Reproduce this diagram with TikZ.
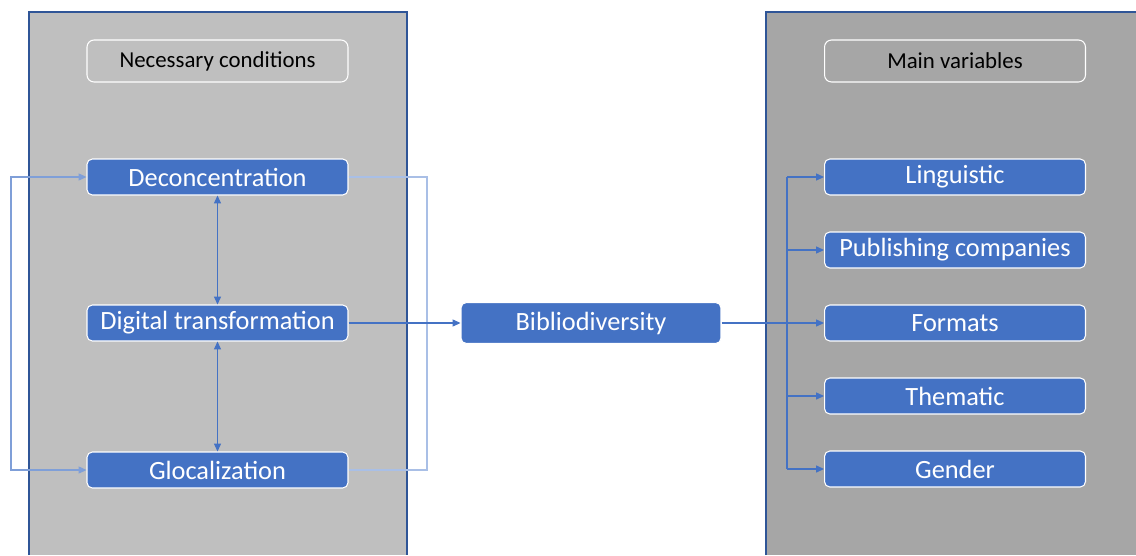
\documentclass[tikz,border=0pt]{standalone}
\usepackage{fontspec}
\setmainfont{Carlito}
\usetikzlibrary{arrows.meta}
\definecolor{boxblue}{HTML}{4472C4}
\definecolor{panelgrey}{HTML}{BFBFBF}
\definecolor{paneldark}{HTML}{A6A6A6}
\definecolor{edgeblue}{HTML}{2F5597}
\definecolor{loopblue}{HTML}{7F9FD8}
\definecolor{paleblue}{HTML}{A9BFE6}

\begin{document}
\begin{tikzpicture}[x=0.02cm,y=-0.02cm,
  bluebox/.style={draw=white,fill=boxblue,rounded corners=3pt,text=white,line width=0.6pt,
    minimum width=5.22cm,minimum height=0.72cm,inner sep=0pt,font=\fontsize{15}{18}\selectfont},
  headbox/.style={draw=white,rounded corners=4pt,line width=0.6pt,
    minimum width=5.22cm,minimum height=0.84cm,inner sep=0pt,font=\fontsize{13}{16}\selectfont},
  conn/.style={draw=boxblue,line width=0.6pt},
  tip/.style={-{Triangle[length=4.5pt,width=4pt]}},
  tips/.style={{Triangle[length=4.5pt,width=4pt]}-{Triangle[length=4.5pt,width=4pt]}}]

\useasboundingbox (0,0) rectangle (1136,555);

\fill [panelgrey] (29,12) rectangle (407,555);
\draw [edgeblue,line width=0.9pt] (29,555) -- (29,12) -- (407,12) -- (407,555);
\fill [paneldark] (766,12) rectangle (1136,555);
\draw [edgeblue,line width=0.9pt] (766,555) -- (766,12) -- (1136,12);

\node [headbox] (necessary) at (217.5,61) {Necessary conditions};
\node [bluebox] (deconc) at (217.5,177) {Deconcentration};
\node [bluebox] (digital) at (217.5,323) {Digital transformation};
\node [bluebox] (glocal) at (217.5,470) {Glocalization};

\node [bluebox,minimum width=5.2cm,minimum height=0.82cm] (biblio) at (591,323) {Bibliodiversity};

\node [headbox] (mainvar) at (955,61) {Main variables};
\node [bluebox] (ling) at (955,177) {Linguistic};
\node [bluebox] (publ) at (955,250) {Publishing companies};
\node [bluebox] (formats) at (955,323) {Formats};
\node [bluebox] (thematic) at (955,396) {Thematic};
\node [bluebox] (gender) at (955,469) {Gender};

\coordinate (loopL) at (11,0);
\coordinate (loopR) at (427,0);
\coordinate (fork) at (787,0);

\draw [conn,draw=loopblue,tips] (deconc.west) -- (deconc.west -| loopL) |- (glocal.west);
\draw [conn,draw=paleblue] (deconc.east) -- (deconc.east -| loopR) |- (glocal.east);
\draw [conn,tips] (deconc) -- (digital);
\draw [conn,tips] (digital) -- (glocal);
\draw [conn,tip] (digital) -- (biblio);

\draw [conn] (biblio.east) -- (biblio.east -| fork);
\draw [conn] (fork |- ling.west) -- (fork |- gender.west);
\foreach \v in {ling,publ,formats,thematic,gender}
  \draw [conn,tip] (fork |- \v.west) -- (\v.west);

\end{tikzpicture}
\end{document}
